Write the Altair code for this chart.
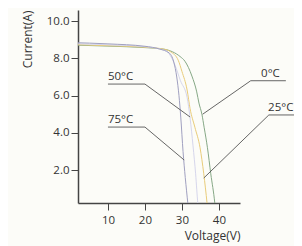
import altair as alt
import pandas as pd

# ---- data ----
series = ["0°C", "25°C", "50°C", "75°C"]
colors = ["#86a886", "#e9cc7a", "#d6d6ec", "#a0a0c0"]

v_0c = [0, 10, 20, 25, 27.5, 29.5, 30.8, 32.7, 34.0, 34.6, 35.4, 36.0, 36.9, 37.8, 38.9, 39.0]
i_0c = [8.72, 8.66, 8.58, 8.5, 8.35, 8.1, 7.85, 7.05, 6.2, 5.6, 5.0, 4.3, 3.2, 1.8, 0.2, 0.0]

v_25c = [0, 10, 20, 25, 27, 29, 30.0, 31.4, 32.2, 33.5, 34.9, 35.9, 36.8, 36.9]
i_25c = [8.75, 8.68, 8.6, 8.5, 8.35, 7.9, 7.3, 6.3, 5.3, 4.3, 3.2, 1.8, 0.2, 0.0]

v_50c = [0, 10, 20, 25, 26.5, 28.0, 29.6, 31.4, 32.2, 33.0, 33.7, 34.3, 34.4]
i_50c = [8.8, 8.73, 8.63, 8.45, 8.25, 7.7, 6.8, 5.9, 4.8, 3.3, 1.8, 0.2, 0.0]

v_75c = [0, 10, 20, 24, 26.5, 27.8, 28.6, 29.2, 29.7, 30.3, 30.9, 31.6, 31.7]
i_75c = [8.85, 8.78, 8.65, 8.5, 8.3, 7.8, 7.0, 6.0, 4.8, 3.0, 1.6, 0.2, 0.0]

# annotation labels: text start, underline (v0..v1 at height i), leader end on curve
ann_text = ["50°C", "75°C", "0°C", "25°C"]
ann_text_v = [10.0, 10.0, 51.4, 53.3]
ann_line_i = [6.62, 4.31, 6.8, 4.96]
ann_line_v0 = [10.0, 10.0, 48.6, 53.5]
ann_line_v1 = [20.0, 20.0, 58.1, 62.6]
ann_start_v = [20.0, 20.0, 48.6, 53.5]
ann_end_v = [32.2, 30.6, 35.6, 35.9]
ann_end_i = [4.85, 2.54, 5.0, 1.57]

x_ticks = [10, 20, 30, 40]
y_ticks = [2, 4, 6, 8, 10]

rows = []
for name, vs, cs in zip(series, [v_0c, v_25c, v_50c, v_75c], [i_0c, i_25c, i_50c, i_75c]):
    for k, (v, c) in enumerate(zip(vs, cs)):
        rows.append({"series": name, "V": v, "I": c, "k": k})
curves = pd.DataFrame(rows)

ann = pd.DataFrame({
    "text": ann_text, "tv": ann_text_v, "li": ann_line_i,
    "lv0": ann_line_v0, "lv1": ann_line_v1,
    "sv": ann_start_v, "ev": ann_end_v, "ei": ann_end_i,
})

FONT = "Open Sans"
xscale = alt.Scale(domain=[1.9, 45.7], nice=False, zero=False)
yscale = alt.Scale(domain=[0.23, 10.6], nice=False, zero=False)

xaxis = alt.Axis(values=x_ticks, format="d", title="Voltage(V)", titleAnchor="end",
                 grid=False, domainColor="#444", domainWidth=1.5, tickColor="#444",
                 tickSize=7, tickWidth=1, labelPadding=4, labelFontSize=11.5,
                 labelColor="#333", labelFont=FONT, titleFont=FONT, titleFontSize=12,
                 titleFontWeight="normal", titleColor="#333", titlePadding=5)
yaxis = alt.Axis(values=y_ticks, format=".1f", title="Current(A)", titleAnchor="end",
                 grid=False, domainColor="#444", domainWidth=1.5, tickColor="#444",
                 tickSize=7, tickWidth=1, labelPadding=2, labelFontSize=11.5,
                 labelColor="#333", labelFont=FONT, titleFont=FONT, titleFontSize=12,
                 titleFontWeight="normal", titleColor="#333", titlePadding=12)

lines = alt.Chart(curves).mark_line(strokeWidth=1.0, clip=True, interpolate="monotone").encode(
    x=alt.X("V:Q", scale=xscale, axis=xaxis),
    y=alt.Y("I:Q", scale=yscale, axis=yaxis),
    color=alt.Color("series:N", scale=alt.Scale(domain=series, range=colors), legend=None),
    order="k:Q",
)

underline = alt.Chart(ann).mark_rule(color="#555", strokeWidth=0.9, clip=False).encode(
    x="lv0:Q", x2="lv1:Q", y="li:Q"
)
leader = alt.Chart(ann).mark_rule(color="#555", strokeWidth=0.9, clip=False).encode(
    x="sv:Q", x2="ev:Q", y="li:Q", y2="ei:Q"
)
labels = alt.Chart(ann).mark_text(align="left", baseline="alphabetic", dy=-4, font=FONT,
                                  fontSize=11.5, color="#333", clip=False).encode(
    x="tv:Q", y="li:Q", text="text:N"
)

chart = alt.layer(lines, underline, leader, labels).properties(
    width=162, height=193, autosize="none",
    padding={"left": 70, "top": 2, "right": 54, "bottom": 43},
    background="#fcfcf8",
).configure_view(stroke=None)

chart.save("out.html", embed_options={"renderer": "svg", "actions": False})
